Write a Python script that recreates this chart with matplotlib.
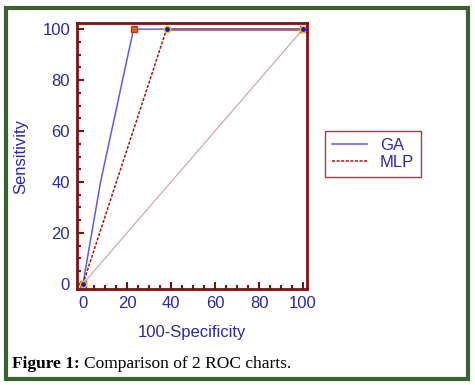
import matplotlib.pyplot as plt
from matplotlib.patches import Rectangle

# ROC points
ga_x = [0, 8, 23, 100]
ga_y = [0, 40, 100, 100]
mlp_x = [0, 38, 100]
mlp_y = [0, 100, 100]
diag_x = [0, 100]
diag_y = [0, 100]
ticks = [0, 20, 40, 60, 80, 100]

spine_col = '#7a1414'
text_col = '#2b2b9a'

plt.rcParams['font.family'] = ['Liberation Sans', 'DejaVu Sans']

fig = plt.figure(figsize=(4.75, 3.85), dpi=100)
fig.patches.append(Rectangle((0.012, 0.015), 0.973, 0.965, transform=fig.transFigure,
                             fill=False, edgecolor='#3b6130', linewidth=3))

ax = fig.add_axes([77/475, 1 - 289/385, (307-77)/475, (289-23)/385])
ax.set_xlim(-2.7, 101.8)
ax.set_ylim(-2.0, 102.4)

# chance line
ax.plot(diag_x, diag_y, color='#c8a0a0', linewidth=0.8)

ax.plot(ga_x, ga_y, color='#6060d4', linewidth=1.1, label='GA')
ax.plot(mlp_x, mlp_y, color='#a01818', linewidth=1.1, linestyle=(0, (2, 1)), label='MLP')
ax.plot([38, 100], [100, 100], color='#a06080', linewidth=2)

# cut-off markers
ax.plot([0, 23, 100], [0, 100, 100], 's', color='#e06020', markeredgecolor='#b04010',
        markersize=5, linestyle='none')
ax.plot([0, 38, 100], [0, 100, 100], 'o', color='#1010e0', markeredgecolor='#f0c020',
        markersize=4.5, linestyle='none')

for s in ax.spines.values():
    s.set_color(spine_col)
    s.set_linewidth(2)

ax.set_xticks(ticks)
ax.set_yticks(ticks)
ax.set_xticks(range(0, 101, 5), minor=True)
ax.set_yticks(range(0, 101, 5), minor=True)
ax.tick_params(which='both', direction='in', color=spine_col, labelcolor=text_col,
               labelsize=12, width=1.5)
ax.tick_params(which='major', length=5, pad=5)
ax.tick_params(which='minor', length=3)

ax.set_xlabel('100-Specificity', color=text_col, fontsize=12, labelpad=10)
ax.set_ylabel('Sensitivity', color=text_col, fontsize=12, labelpad=10)

leg = ax.legend(loc='upper left', bbox_to_anchor=(325/475, 1 - 131/385),
                bbox_transform=fig.transFigure, borderaxespad=0, fontsize=12,
                frameon=True, fancybox=False, handlelength=2.1, handletextpad=0.8,
                borderpad=0.4, labelspacing=0.15)
leg.get_frame().set_edgecolor(spine_col)
leg.get_frame().set_linewidth(1)
for t in leg.get_texts():
    t.set_color(text_col)

fig.text(12/475, 1 - 364/385, 'Figure 1:', family='Liberation Serif', fontweight='bold',
         fontsize=12.5, va='center')
fig.text(84/475, 1 - 364/385, 'Comparison of 2 ROC charts.', family='Liberation Serif',
         fontsize=12.5, va='center')

fig.savefig('out.png', dpi=100)
